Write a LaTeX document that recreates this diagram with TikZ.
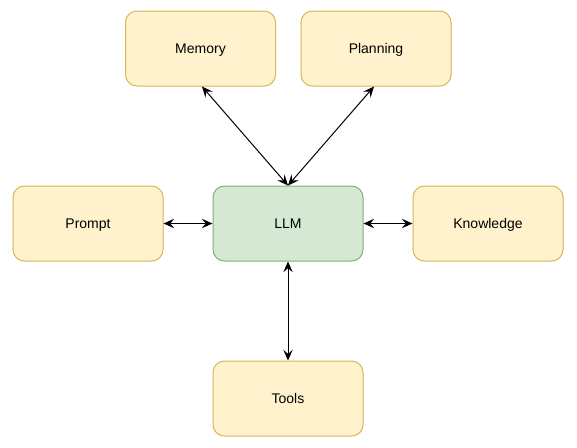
\documentclass[tikz,border=0pt]{standalone}
\usepackage{fontspec}
\setmainfont{Liberation Sans}
\usetikzlibrary{arrows.meta}
\definecolor{yfill}{HTML}{FFF2CC}
\definecolor{ydraw}{HTML}{D6B656}
\definecolor{gfill}{HTML}{D5E8D4}
\definecolor{gdraw}{HTML}{82B366}
\begin{document}
\begin{tikzpicture}[x=0.75pt,y=-0.75pt,
  boxy/.style={draw=ydraw,fill=yfill,rounded corners=8.5pt,minimum width=112.5pt,minimum height=56.25pt,inner sep=0pt,text height=0.92em,text depth=0.2em,font=\fontsize{10.5}{12}\selectfont,line width=0.75pt},
  boxg/.style={boxy,draw=gdraw,fill=gfill},
  conn/.style={{Stealth[length=8pt,width=7pt,inset=3pt]}-{Stealth[length=8pt,width=7pt,inset=3pt]},line width=0.75pt,black}]
\useasboundingbox (0,0) rectangle (577,447);
\node[boxy] (mem) at (200.5,48.5) {Memory};
\node[boxy] (plan) at (376,48.5) {Planning};
\node[boxy] (prompt) at (88,223.5) {Prompt};
\node[boxg] (llm) at (288,223.5) {LLM};
\node[boxy] (know) at (488,223.5) {Knowledge};
\node[boxy] (tools) at (288,398.5) {Tools};
\coordinate (memb) at (202,86.5);
\coordinate (planb) at (374,86.5);
\draw[conn] (memb) -- (llm.north);
\draw[conn] (planb) -- (llm.north);
\draw[conn] (prompt.east) -- (llm.west);
\draw[conn] (llm.east) -- (know.west);
\draw[conn] (llm.south) -- (tools.north);
\end{tikzpicture}
\end{document}
